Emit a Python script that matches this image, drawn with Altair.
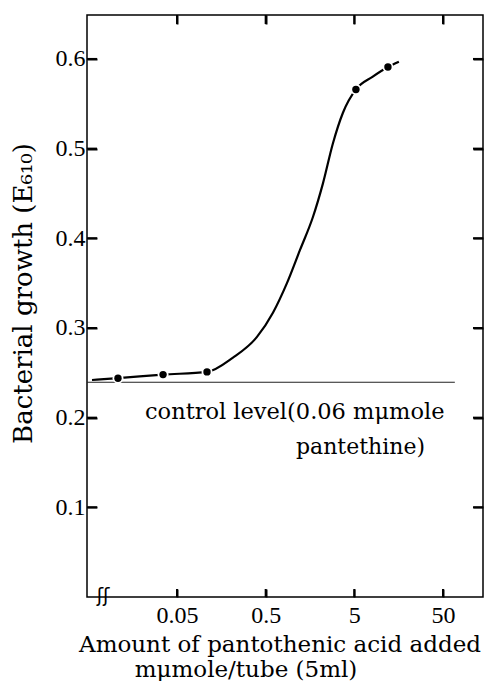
import altair as alt
import pandas as pd

# measured data points (amount of pantothenic acid, growth E610)
pt_x = [0.0108, 0.0348, 0.109, 5.21, 11.97]
pt_y = [0.244, 0.248, 0.251, 0.566, 0.591]

# hand-drawn smooth curve
curve_x = [0.0055, 0.0108, 0.0348, 0.109, 0.214, 0.399, 0.604, 0.869, 1.22, 1.71,
           2.21, 2.87, 3.72, 5.21, 8.0, 11.97, 15.9]
curve_y = [0.242, 0.244, 0.248, 0.251, 0.267, 0.290, 0.317, 0.350, 0.387, 0.424,
           0.461, 0.506, 0.540, 0.566, 0.580, 0.591, 0.597]

# control level (0.06 mμmole pantethine)
control_x = [0.00483, 68.0]
control_y = [0.2395, 0.2395]

x_ticks = [0.05, 0.5, 5, 50]
y_ticks = [0.1, 0.2, 0.3, 0.4, 0.5, 0.6]

W, H = 396, 582
XDOM = [0.00483, 141.3]
YDOM = [0, 0.649]
SERIF = "DejaVu Serif"
NUMF = "Liberation Serif"
TW = 2

xs = alt.Scale(type="log", domain=XDOM, nice=False)
ys = alt.Scale(domain=YDOM, nice=False, zero=False)

pts = pd.DataFrame({"x": pt_x, "y": pt_y})
crv = pd.DataFrame({"x": curve_x, "y": curve_y})
ctl = pd.DataFrame({"x": control_x, "y": control_y})
xt = pd.DataFrame({"xv": x_ticks})
yt = pd.DataFrame({"yv": y_ticks})

x_axis = alt.Axis(values=x_ticks, format="~g", ticks=True, tickSize=8, offset=-8,
                  tickColor="black", tickWidth=TW, domain=False, grid=False,
                  labelFont=NUMF, labelFontSize=24, labelColor="black",
                  labelPadding=6, title=None, labelFlush=False, zindex=2)
y_axis = alt.Axis(values=y_ticks, format=".1f", ticks=True, tickSize=10, offset=-10,
                  tickColor="black", tickWidth=TW, domain=False, grid=False,
                  labelFont=NUMF, labelFontSize=24, labelColor="black",
                  labelPadding=2, title="Bacterial growth (E₆₁₀)",
                  titleFont=SERIF, titleFontSize=26, titleFontWeight="normal",
                  titleColor="black", titleX=-74, titleY=278, titleAngle=270,
                  titleAlign="center", titleBaseline="middle", zindex=2)

top_axis = alt.Axis(orient="top", values=x_ticks, labels=False, ticks=True, tickSize=9,
                    offset=-9, tickColor="black", tickWidth=TW, domain=False,
                    grid=False, title=None, zindex=2)
right_axis = alt.Axis(orient="right", values=y_ticks, labels=False, ticks=True,
                      tickSize=10, offset=-10, tickColor="black", tickWidth=TW,
                      domain=False, grid=False, title=None, zindex=2)

control = alt.Chart(ctl).mark_line(color="#222", strokeWidth=1.1).encode(
    x=alt.X("x:Q", scale=xs, axis=x_axis),
    y=alt.Y("y:Q", scale=ys, axis=y_axis),
)

frame_axes = alt.Chart(ctl).mark_point(opacity=0).encode(
    x=alt.X("x:Q", scale=xs, axis=top_axis),
    y=alt.Y("y:Q", scale=ys, axis=right_axis),
)

curve = alt.Chart(crv).mark_line(color="black", strokeWidth=2.2, interpolate="monotone").encode(
    x=alt.X("x:Q", scale=xs, axis=None), y=alt.Y("y:Q", scale=ys, axis=None)
)

halo = alt.Chart(pts).mark_circle(color="white", opacity=1, size=120).encode(
    x=alt.X("x:Q", scale=xs, axis=None), y=alt.Y("y:Q", scale=ys, axis=None)
)
dots = alt.Chart(pts).mark_circle(color="black", opacity=1, size=55).encode(
    x=alt.X("x:Q", scale=xs, axis=None), y=alt.Y("y:Q", scale=ys, axis=None)
)

# inward tick marks drawn as rules as well (same positions as the axis ticks)
left_ticks = alt.Chart(yt).mark_rule(color="black", strokeWidth=TW).encode(
    y=alt.Y("yv:Q", scale=ys, axis=None), x=alt.value(0), x2=alt.value(10))
right_ticks = alt.Chart(yt).mark_rule(color="black", strokeWidth=TW).encode(
    y=alt.Y("yv:Q", scale=ys, axis=None), x=alt.value(W - 10), x2=alt.value(W))
bottom_ticks = alt.Chart(xt).mark_rule(color="black", strokeWidth=TW).encode(
    x=alt.X("xv:Q", scale=xs, axis=None), y=alt.value(H - 8), y2=alt.value(H))
top_ticks = alt.Chart(xt).mark_rule(color="black", strokeWidth=TW).encode(
    x=alt.X("xv:Q", scale=xs, axis=None), y=alt.value(0), y2=alt.value(9))

brk = alt.Chart(pd.DataFrame({"t": ["ʃʃ"]})).mark_text(
    font="DejaVu Sans", fontSize=19, color="black", baseline="middle", align="center"
).encode(x=alt.value(16), y=alt.value(H - 1), text="t:N")

lbl1 = alt.Chart(pd.DataFrame({"t": ["control level(0.06 mμmole"]})).mark_text(
    font=SERIF, fontSize=22.5, color="black", align="left", baseline="middle"
).encode(x=alt.value(58), y=alt.value(397), text="t:N")
lbl2 = alt.Chart(pd.DataFrame({"t": ["pantethine)"]})).mark_text(
    font=SERIF, fontSize=22, color="black", align="right", baseline="middle"
).encode(x=alt.value(338), y=alt.value(432), text="t:N")

xt1 = alt.Chart(pd.DataFrame({"t": ["Amount of pantothenic acid added"]})).mark_text(
    font=SERIF, fontSize=23, color="black", align="center", baseline="middle"
).encode(x=alt.value(193), y=alt.value(630), text="t:N")
xt2 = alt.Chart(pd.DataFrame({"t": ["mμmole/tube (5ml)"]})).mark_text(
    font=SERIF, fontSize=23, color="black", align="center", baseline="middle"
).encode(x=alt.value(159), y=alt.value(655), text="t:N")

chart = alt.layer(
    control, frame_axes, curve, halo, dots,
    left_ticks, right_ticks, bottom_ticks, top_ticks,
    brk, lbl1, lbl2, xt1, xt2
).resolve_axis(x="independent", y="independent").properties(
    width=W, height=H,
    autosize=alt.AutoSizeParams(type="none"),
    padding={"left": 79, "top": 7, "right": 1, "bottom": 84},
    background="white",
).configure_view(stroke="black", strokeWidth=1.5)

chart.save("out.html", embed_options={"renderer": "svg", "actions": False})
